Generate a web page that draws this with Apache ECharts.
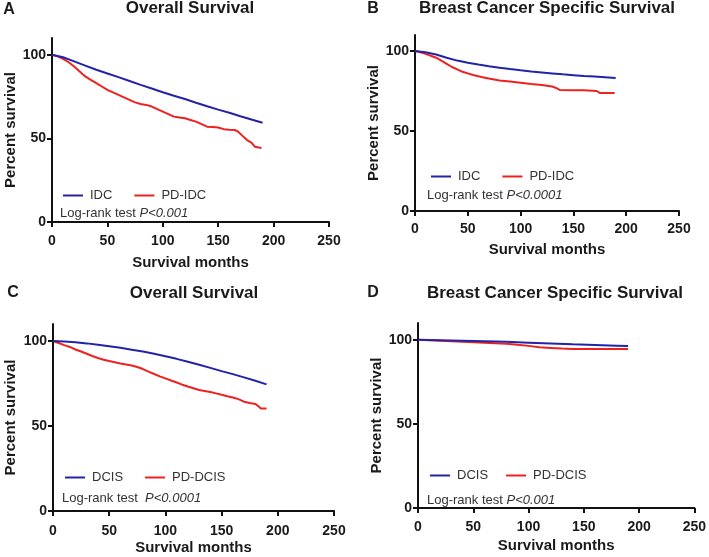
<!DOCTYPE html>
<html>
<head>
<meta charset="utf-8">
<script src="https://cdn.jsdelivr.net/npm/echarts@6/dist/echarts.min.js"></script>
<style>html,body{margin:0;padding:0;background:#fff;}#c{width:709px;height:557px;}</style>
</head>
<body>
<div id="c"></div>
<script>
// Panel A: Overall Survival (IDC vs PD-IDC)
var aIdcMonths = [0,10,20,30,40,50,60,70,80,90,100,110,120,130,140,150,160,170,180,190];
var aIdcValues = [100,98.5,96,93.5,91,88.8,86.6,84.3,82,79.8,77.6,75.5,73.5,71.3,69.2,67.2,65.3,63.2,61.3,59.3];
var aPdMonths = [0,5,10,15,20,25,30,35,40,45,50,55,60,65,70,75,80,85,90,95,100,105,110,115,120,125,130,135,140,145,150,155,160,165,168,172,176,180,183,184,189];
var aPdValues = [100,99,97.5,95.5,93,90,87,85,83,81,79,77.5,76,74.5,73,71.5,70.5,70,69,67.5,66,64.5,63,62.5,62,61,60,58.5,57,56.8,56.5,55.5,55.2,55,54,51.5,49,47.5,45,44.2,44.2];
// Panel B: Breast Cancer Specific Survival (IDC vs PD-IDC)
var bIdcMonths = [0,10,20,30,40,50,60,70,80,90,100,110,120,130,140,150,160,170,180,190];
var bIdcValues = [100,99.2,97.8,95.8,94,92.6,91.5,90.5,89.6,88.7,87.9,87.2,86.6,86,85.4,84.9,84.4,84,83.6,83.2];
var bPdMonths = [0,5,10,15,20,25,30,35,40,45,50,55,60,65,70,75,80,90,100,110,120,130,135,137,150,160,172,175,189];
var bPdValues = [100,99.2,98.2,97,95.8,94,92,90,88.5,87,86,85,84.2,83.5,82.8,82.2,81.6,81,80.2,79.4,78.8,77.8,76.5,75.6,75.5,75.4,75,73.8,73.8];
// Panel C: Overall Survival (DCIS vs PD-DCIS)
var cDcisMonths = [0,10,20,30,40,50,60,70,80,90,100,110,120,130,140,150,160,170,180,190];
var cDcisValues = [100,99.7,99.2,98.6,97.8,96.9,96,94.9,93.8,92.5,91,89.5,87.8,86,84.2,82.3,80.5,78.6,76.6,74.5];
var cPdMonths = [0,5,10,15,20,25,30,35,40,45,50,55,60,65,70,75,80,85,90,95,100,105,110,115,120,125,130,135,140,145,150,155,160,165,170,175,180,183,185,190];
var cPdValues = [100,98.8,97.6,96.5,95,93.8,92.5,91.2,90,89,88.2,87.5,86.8,86.2,85.6,84.7,83.5,82,80.6,79.2,78,76.8,75.6,74.3,73.2,72.2,71.2,70.6,70,69.2,68.4,67.5,66.8,65.8,64.3,63.5,63,61.5,60.3,60.3];
// Panel D: Breast Cancer Specific Survival (DCIS vs PD-DCIS)
var dDcisMonths = [0,20,40,60,80,100,120,140,160,180,190];
var dDcisValues = [100,99.8,99.5,99.2,98.8,98.3,97.8,97.3,96.9,96.5,96.3];
var dPdMonths = [0,20,40,60,80,90,100,110,120,130,140,160,190];
var dPdValues = [100,99.4,98.8,98.3,97.7,97,96.4,95.6,95.2,94.8,94.5,94.5,94.5];

var xTicks = [0,50,100,150,200,250];
var yTicks = [0,50,100];

var BLUE = '#2323a8', RED = '#ee2020', TXT = '#1a1a1a';
var FONT = '"Liberation Sans", Arial, sans-serif';

function zip(m, v) { return m.map(function (x, i) { return [x, v[i]]; }); }

var grids = [
  {left: 52, top: 38, width: 277, height: 184},
  {left: 415, top: 35, width: 264, height: 176},
  {left: 53, top: 324, width: 281, height: 187},
  {left: 418, top: 323, width: 278, height: 185}
];
var xNameGaps = [33, 31, 29, 30];
var xLabelMargins = [12, 11, 13, 12];
var yNameGaps = [33, 33, 35, 34];

var xAxes = [], yAxes = [];
grids.forEach(function (g, i) {
  xAxes.push({
    type: 'value', gridIndex: i, min: 0, max: 250, interval: 50,
    name: 'Survival months', nameLocation: 'middle', nameGap: xNameGaps[i],
    nameTextStyle: {fontFamily: FONT, fontWeight: 'bold', fontSize: 15, color: TXT},
    axisLine: {show: true, lineStyle: {color: '#111', width: 2}},
    axisTick: {show: true, length: 5, lineStyle: {color: '#111', width: 2}},
    axisLabel: {fontFamily: FONT, fontWeight: 'bold', fontSize: 14, color: TXT, margin: xLabelMargins[i], customValues: xTicks},
    splitLine: {show: false}
  });
  yAxes.push({
    type: 'value', gridIndex: i, min: 0, max: 110,
    name: 'Percent survival', nameLocation: 'middle', nameGap: yNameGaps[i],
    nameTextStyle: {fontFamily: FONT, fontWeight: 'bold', fontSize: 15, color: TXT},
    axisLine: {show: true, lineStyle: {color: '#111', width: 2}},
    axisTick: {show: true, length: 5, lineStyle: {color: '#111', width: 2}, customValues: yTicks},
    axisLabel: {fontFamily: FONT, fontWeight: 'bold', fontSize: 14, color: TXT, margin: 6, customValues: yTicks},
    splitLine: {show: false}
  });
});

function line(name, data, color, idx) {
  return {
    type: 'line', name: name, data: data, xAxisIndex: idx, yAxisIndex: idx,
    showSymbol: false, symbol: 'none', lineStyle: {color: color, width: 2}, itemStyle: {color: color},
    animation: false, z: color === BLUE ? 3 : 2
  };
}

var series = [
  line('IDC', zip(aIdcMonths, aIdcValues), BLUE, 0),
  line('PD-IDC', zip(aPdMonths, aPdValues), RED, 0),
  line('IDC', zip(bIdcMonths, bIdcValues), BLUE, 1),
  line('PD-IDC', zip(bPdMonths, bPdValues), RED, 1),
  line('DCIS', zip(cDcisMonths, cDcisValues), BLUE, 2),
  line('PD-DCIS', zip(cPdMonths, cPdValues), RED, 2),
  line('DCIS', zip(dDcisMonths, dDcisValues), BLUE, 3),
  line('PD-DCIS', zip(dPdMonths, dPdValues), RED, 3)
];

function legend(names, left, top, gap) {
  return {
    data: names, left: left, top: top, orient: 'horizontal', icon: 'rect',
    itemWidth: 20, itemHeight: 2, itemGap: gap, selectedMode: false,
    textStyle: {fontFamily: FONT, fontSize: 13, color: '#333', padding: [0, 0, 0, 2]}
  };
}

function txt(x, y, text, font, align) {
  return {type: 'text', x: x, y: y, silent: true,
    style: {text: text, font: font, fill: TXT, align: align || 'center', verticalAlign: 'middle'}};
}
function logrank(x, y, plain, italic) {
  return {type: 'text', x: x, y: y, silent: true,
    style: {text: '{n|' + plain + '}{i|' + italic + '}', align: 'left', verticalAlign: 'middle',
      rich: {n: {fontFamily: FONT, fontSize: 13, fill: '#333', color: '#333'},
             i: {fontFamily: FONT, fontSize: 13, fontStyle: 'italic', fill: '#333', color: '#333'}}}};
}

var titleFont = 'bold 17px ' + FONT;
var letterFont = 'bold 16px ' + FONT;

var chart = echarts.init(document.getElementById('c'), null, {renderer: 'canvas'});
chart.setOption({
  animation: false,
  backgroundColor: '#fff',
  grid: grids,
  xAxis: xAxes,
  yAxis: yAxes,
  series: series,
  legend: [
    legend(['IDC', 'PD-IDC'], 58, 184, 22),
    legend(['IDC', 'PD-IDC'], 426, 165, 22),
    legend(['DCIS', 'PD-DCIS'], 60, 466, 22),
    legend(['DCIS', 'PD-DCIS'], 425, 464, 18)
  ],
  graphic: [
    txt(9, 10, 'A', letterFont),
    txt(373, 9, 'B', letterFont),
    txt(13, 293, 'C', letterFont),
    txt(373, 293, 'D', letterFont),
    txt(190, 8, 'Overall Survival', titleFont),
    txt(547, 8, 'Breast Cancer Specific Survival', titleFont),
    txt(194, 293, 'Overall Survival', titleFont),
    txt(555, 293, 'Breast Cancer Specific Survival', titleFont),
    logrank(60, 213, 'Log-rank test ', 'P<0.001'),
    logrank(427, 195, 'Log-rank test ', 'P<0.0001'),
    logrank(62, 498, 'Log-rank test  ', 'P<0.0001'),
    logrank(427, 500, 'Log-rank test ', 'P<0.001')
  ]
});
</script>
</body>
</html>
